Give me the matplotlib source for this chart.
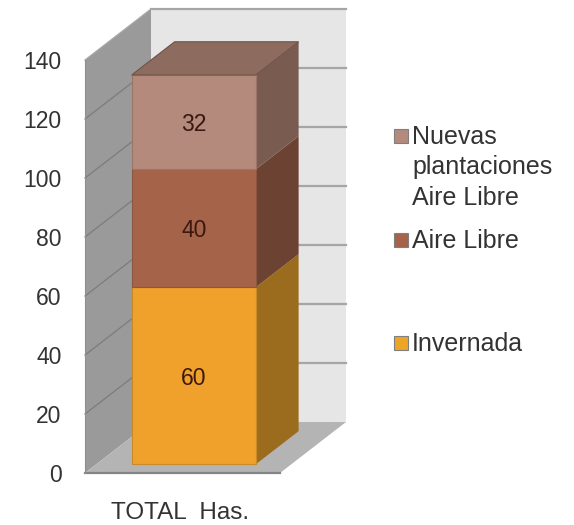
import numpy as np
import matplotlib
matplotlib.use("Agg")
import matplotlib.pyplot as plt
from matplotlib.patches import Rectangle

plt.rcParams["font.family"] = ["Liberation Sans", "DejaVu Sans"]

# data
categories = ["TOTAL  Has."]
series_names = ["Invernada", "Aire Libre", "Nuevas\nplantaciones\nAire Libre"]
series_values = [60, 40, 32]
y_ticks = [0, 20, 40, 60, 80, 100, 120, 140]

# front, side and top colours per series
front_colors = ["#F0A12C", "#A5634A", "#B38A7C"]
side_colors = ["#9C6C1E", "#6C4333", "#7A5B4F"]
edge_colors = ["#C98A28", "#8E5540", "#9A7568"]
top_color = "#8D6C5F"
legend_colors = ["#EDA526", "#A5634A", "#B38A7C"]

# fake 3d: how far a point moves going from front to back of the floor
depth_x = 66 / 195
depth_y = 51 / 2.95
bar_width = 124 / 195
bar_front = 0.17
bar_back = 0.82


def proj(x, y, depth):
    return x + depth * depth_x, y + depth * depth_y


def poly(ax, pts, color, edge="none", lw=0.8, z=1):
    xs = [p[0] for p in pts]
    ys = [p[1] for p in pts]
    ax.fill(xs, ys, facecolor=color, edgecolor=edge, linewidth=lw, zorder=z, clip_on=False)


fig = plt.figure(figsize=(5.74, 5.25), dpi=100)
ax = fig.add_axes([85 / 574, 52 / 525, 489 / 574, 473 / 525])
ax.set_xlim(0, 489 / 195)
ax.set_ylim(0, 473 / 2.95)
ax.patch.set_visible(False)
for s in ax.spines.values():
    s.set_visible(False)

top = y_ticks[-1]

# walls and floor
poly(ax, [proj(0, 0, 1), proj(1, 0, 1), proj(1, top, 1), proj(0, top, 1)], "#E6E6E6")
poly(ax, [proj(0, 0, 0), proj(0, 0, 1), proj(0, top, 1), proj(0, top, 0)], "#9A9A9A")
poly(ax, [proj(0, 0, 0), proj(1, 0, 0), proj(1, 0, 1), proj(0, 0, 1)], "#B4B4B4")

# gridlines along the side wall and the back wall
for t in y_ticks:
    x0, y0 = proj(0, t, 0)
    x1, y1 = proj(0, t, 1)
    x2, y2 = proj(1, t, 1)
    if t > 0:
        side = "#A8A8A8" if t == top else "#7C7C7C"
        ax.plot([x0, x1], [y0, y1], color=side, lw=0.9, zorder=2, clip_on=False)
        ax.plot([x1, x2], [y1, y2], color="#A6A6A6", lw=1.6, zorder=2, clip_on=False)
ax.plot([0, 1], [0, 0], color="#858585", lw=1.6, zorder=2, clip_on=False)
ax.plot([0, 0], [0, top], color="#8F8F8F", lw=0.8, zorder=2, clip_on=False)

# stacked bar
xc = 0.5
left = xc - bar_width / 2
right = xc + bar_width / 2
bottoms = np.concatenate([[0], np.cumsum(series_values)[:-1]])
for val, b, fc, sc, ec in zip(series_values, bottoms, front_colors, side_colors, edge_colors):
    t = b + val
    poly(ax, [proj(right, b, bar_front), proj(right, b, bar_back),
              proj(right, t, bar_back), proj(right, t, bar_front)], sc, z=3)
    poly(ax, [proj(left, b, bar_front), proj(right, b, bar_front),
              proj(right, t, bar_front), proj(left, t, bar_front)], fc, edge=ec, z=4)
    cx, cy = proj(xc, b + val / 2, bar_front)
    ax.text(cx, cy, str(val), ha="center", va="center_baseline", fontsize=16.5, color="#3A1A10", zorder=6)

total = bottoms[-1] + series_values[-1]
poly(ax, [proj(left, total, bar_front), proj(right, total, bar_front),
          proj(right, total, bar_back), proj(left, total, bar_back)], top_color, edge="#6F5348", z=5)

# axis labels
ax.set_yticks(y_ticks)
ax.set_xticks([xc - 0.015])
ax.set_xticklabels(categories)
ax.tick_params(axis="both", length=0, labelcolor="#333333")
ax.tick_params(axis="y", pad=17, labelsize=16.5)
ax.tick_params(axis="x", pad=21, labelsize=17.5)

# legend, spaced the way the original spreads it out
legend_y = [136, 240, 343]
for name, c, py in zip(series_names[::-1], legend_colors[::-1], legend_y):
    fig.add_artist(Rectangle((394 / 574, 1 - (py + 7) / 525), 14 / 574, 14 / 525,
                             transform=fig.transFigure, facecolor=c, edgecolor="#7F7F7F", linewidth=0.8))
    fig.text(412 / 574, 1 - (py - 11) / 525, name, ha="left", va="top", fontsize=18,
             color="#333333", linespacing=1.34)

fig.savefig("out.png", dpi=100)
